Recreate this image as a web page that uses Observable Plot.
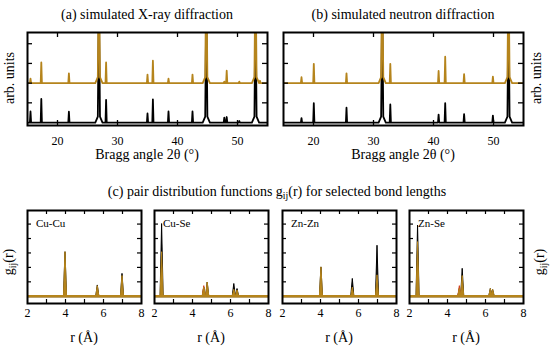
<!DOCTYPE html>
<html><head><meta charset="utf-8">
<script src="https://cdn.jsdelivr.net/npm/d3@7"></script>
<script src="https://cdn.jsdelivr.net/npm/@observablehq/plot@0.6"></script>
<style>
body{margin:0;background:#fff;}
#root{position:relative;width:550px;height:348px;color:#000;overflow:hidden;background:#fff;font-family:'Liberation Serif'}
.p{position:absolute}
.lbl{position:absolute;font-family:'Liberation Serif';font-size:14px;white-space:nowrap;transform:translate(-50%,-50%);line-height:1}
.vlbl{position:absolute;font-family:'Liberation Serif';font-size:14px;white-space:nowrap;transform:translate(-50%,-50%) rotate(-90deg);line-height:1}
.tag{position:absolute;font-family:'Liberation Serif';font-size:11px;white-space:nowrap;transform:translate(0,-50%);line-height:1}
.sb{font-size:70%;position:relative;top:3px}
</style></head><body><div id="root"></div>
<script>
// ---------- data ----------
const xrayAngles  = [15.5, 17.3, 21.9, 26.9, 28.1, 35.0, 35.9, 38.5, 42.5, 44.8, 47.8, 48.2, 50.3, 53.0, 53.75];
const xrayBlack   = [0.56, 1.2, 0.55, 6, 1.15, 0.46, 1.17, 0.56, 0.56, 6, 0.25, 0.28, 0.08, 6, 0];
const xrayOrange  = [0.23, 1.05, 0.5, 6, 1.05, 0.43, 1.14, 0.23, 0.43, 6, 0.08, 0.63, 0.08, 6, 0.12];

const neutronAngles = [18.0, 20.05, 25.5, 31.45, 32.8, 40.85, 41.95, 45.1, 49.9, 52.5];
const neutronBlack  = [0.22, 0.98, 0.75, 6, 0.92, 0.4, 0.98, 0.43, 0.35, 6];
const neutronOrange = [0.3, 0.98, 0.5, 6, 0.98, 0.62, 1.34, 0.46, 0.33, 6];

const xrdTicks = [20, 30, 40, 50];
const xrdYTicks = [1, 2, 3, 4];
const orangeOffset = 2;

const pdfNames = ["Cu-Cu", "Cu-Se", "Zn-Zn", "Zn-Se"];
const cuCuR = [4.0, 5.7, 7.0];
const cuCuBlack = [3.05, 0.75, 1.55];
const cuCuOrange = [3.05, 0.7, 1.4];
const cuCuRed = [0, 0, 0];
const cuSeR = [2.4, 4.62, 4.8, 6.2, 6.37];
const cuSeBlack = [5.0, 0.6, 0.95, 0.85, 0.5];
const cuSeOrange = [3.05, 0.6, 0.95, 0.45, 0.4];
const cuSeRed = [0, 0.7, 0, 0, 0];
const znZnR = [4.05, 5.7, 7.0];
const znZnBlack = [2.0, 1.2, 3.5];
const znZnOrange = [2.0, 0.6, 1.45];
const znZnRed = [0, 0, 0];
const znSeR = [2.45, 4.65, 4.8, 6.28, 6.4];
const znSeBlack = [4.9, 0.5, 1.9, 0.5, 0.45];
const znSeOrange = [3.75, 0.5, 1.4, 0.5, 0.45];
const znSeRed = [0, 0.7, 0, 0, 0];
const pdfTickLabels = [2, 4, 6, 8];
const pdfInnerTicks = [3, 4, 5, 6, 7];
const pdfYTicks = [1, 2, 3, 4, 5];

// ---------- helpers ----------
const ORANGE = "#b5841c";
const RED = "#d2401e";
const FONT = "Liberation Serif";
const root = document.getElementById("root");

function place(el, left, top) {
  el.classList.add("p");
  el.style.left = left + "px"; el.style.top = top + "px";
  root.appendChild(el);
}
function label(html, x, y, cls = "lbl") {
  const d = document.createElement("div");
  d.className = cls; d.innerHTML = html;
  d.style.left = x + "px"; d.style.top = y + "px";
  root.appendChild(d);
  return d;
}

function xrdProfile(angles, heights, offset) {
  const pts = [{x: 15, y: offset}];
  angles.forEach((a, i) => {
    const h = heights[i];
    if (h <= 0) return;
    if (h > 3) {
      pts.push({x: a - 0.6, y: offset}, {x: a - 0.18, y: offset + 0.3}, {x: a, y: offset + h},
               {x: a + 0.18, y: offset + 0.3}, {x: a + 0.6, y: offset});
    } else {
      pts.push({x: a - 0.1, y: offset}, {x: a, y: offset + h}, {x: a + 0.1, y: offset});
    }
  });
  pts.push({x: 55, y: offset});
  return pts;
}

function xrdPlot(angles, black, orange, mL, mR) {
  const W = 275, H = 165, mT = 32, mB = 40;
  const fw = W - mL - mR, fh = H - mT - mB;
  return Plot.plot({
    width: W, height: H, marginLeft: mL, marginRight: mR, marginTop: mT, marginBottom: mB,
    style: {fontFamily: FONT, fontSize: "12px", color: "black", background: "transparent"},
    x: {domain: [15, 55], ticks: xrdTicks, tickFormat: d => String(d), tickSize: 0, tickPadding: 11, label: null},
    y: {domain: [-0.15, 4.57], axis: null},
    marks: [
      Plot.line(xrdProfile(angles, black, 0), {x: "x", y: "y", stroke: "black", strokeWidth: 1.8, clip: true}),
      Plot.line(xrdProfile(angles, orange, orangeOffset), {x: "x", y: "y", stroke: ORANGE, strokeWidth: 1.8, clip: true}),
      Plot.tickX(xrdTicks, {x: d => d, insetTop: fh - 5, stroke: "black", strokeWidth: 1.3}),
      Plot.tickX(xrdTicks, {x: d => d, insetBottom: fh - 5, stroke: "black", strokeWidth: 1.3}),
      Plot.tickY(xrdYTicks, {y: d => d, insetRight: fw - 5, stroke: "black", strokeWidth: 1.3}),
      Plot.tickY(xrdYTicks, {y: d => d, insetLeft: fw - 5, stroke: "black", strokeWidth: 1.3}),
      Plot.frame({stroke: "black", strokeWidth: 2})
    ]
  });
}

function pdfRows(r, g) {
  const rows = [];
  r.forEach((p, i) => {
    if (g[i] <= 0) return;
    rows.push({r: p - 0.08, g: 0, id: i}, {r: p, g: g[i], id: i}, {r: p + 0.08, g: 0, id: i});
  });
  return rows;
}

function pdfPlot(r, black, orange, red) {
  const W = 142, H = 135, mL = 14, mR = 14, mT = 10, mB = 32;
  const fw = W - mL - mR, fh = H - mT - mB;
  return Plot.plot({
    width: W, height: H, marginLeft: mL, marginRight: mR, marginTop: mT, marginBottom: mB,
    style: {fontFamily: FONT, fontSize: "12px", color: "black", background: "transparent", overflow: "visible"},
    x: {domain: [2, 8], ticks: pdfTickLabels, tickFormat: d => String(d), tickSize: 0, tickPadding: 5, label: null},
    y: {domain: [-0.5, 5.94], axis: null},
    marks: [
      Plot.areaY(pdfRows(r, black), {x: "r", y1: 0, y2: "g", z: "id", fill: "black", stroke: "black", strokeWidth: 1, clip: true}),
      Plot.ruleY([0], {stroke: "black", strokeWidth: 2}),
      Plot.areaY(pdfRows(r, red), {x: "r", y1: 0, y2: "g", z: "id", fill: RED, stroke: RED, strokeWidth: 1, clip: true}),
      Plot.areaY(pdfRows(r, orange), {x: "r", y1: 0, y2: "g", z: "id", fill: ORANGE, stroke: ORANGE, strokeWidth: 1, clip: true}),
      Plot.ruleY([0], {stroke: ORANGE, strokeWidth: 2.5}),
      Plot.tickX(pdfInnerTicks, {x: d => d, insetTop: fh - 4, stroke: "black", strokeWidth: 1.2}),
      Plot.tickX(pdfInnerTicks, {x: d => d, insetBottom: fh - 4, stroke: "black", strokeWidth: 1.2}),
      Plot.tickY(pdfYTicks, {y: d => d, insetRight: fw - 4, stroke: "black", strokeWidth: 1.2}),
      Plot.tickY(pdfYTicks, {y: d => d, insetLeft: fw - 4, stroke: "black", strokeWidth: 1.2}),
      Plot.frame({stroke: "black", strokeWidth: 2})
    ]
  });
}

// ---------- panels (a) and (b) ----------
place(xrdPlot(xrayAngles, xrayBlack, xrayOrange, 27, 8), 0, 0);
place(xrdPlot(neutronAngles, neutronBlack, neutronOrange, 8, 27), 275, 0);

label("(a) simulated X-ray diffraction", 147, 15);
label("(b) simulated neutron diffraction", 403, 15);
label("Bragg angle 2θ (°)", 147, 155);
label("Bragg angle 2θ (°)", 403, 155);
label("arb. units", 10, 78, "vlbl");
label("arb. units", 537, 78, "vlbl");

// ---------- panel (c) ----------
const pdfSets = [
  [cuCuR, cuCuBlack, cuCuOrange, cuCuRed],
  [cuSeR, cuSeBlack, cuSeOrange, cuSeRed],
  [znZnR, znZnBlack, znZnOrange, znZnRed],
  [znSeR, znSeBlack, znSeOrange, znSeRed]
];
const frameLefts = [27, 154, 282, 409];
pdfSets.forEach((s, i) => {
  place(pdfPlot(...s), frameLefts[i] - 14, 200);
  label(pdfNames[i], frameLefts[i] + 9, 223, "tag");
  label("r (Å)", frameLefts[i] + 57, 338);
});
label("(c) pair distribution functions g<span class=\"sb\">ij</span>(r) for selected bond lengths", 277, 192);
label("g<span class=\"sb\">ij</span>(r)", 9, 262, "vlbl");
label("g<span class=\"sb\">ij</span>(r)", 540, 262, "vlbl");
</script>
</body></html>
